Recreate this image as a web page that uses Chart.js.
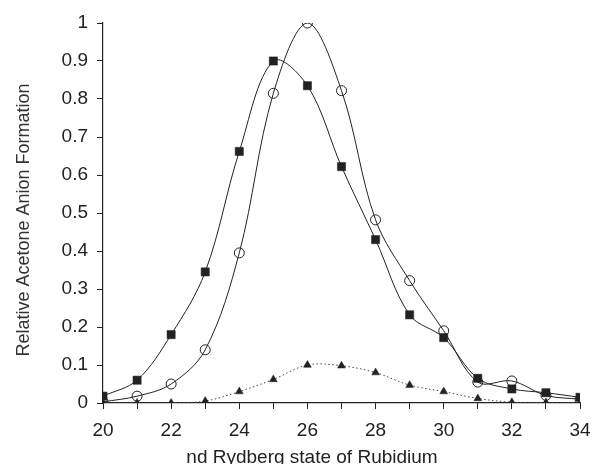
<!DOCTYPE html>
<html>
<head>
<meta charset="utf-8">
<script src="https://cdn.jsdelivr.net/npm/chart.js@4/dist/chart.umd.min.js"></script>
<style>
  html, body { margin: 0; padding: 0; background: #fff; }
  #wrap { width: 592px; height: 464px; }
</style>
</head>
<body>
<div id="wrap"><canvas id="rbChart" width="592" height="464"></canvas></div>
<script>
// n values (Rydberg state) and relative anion formation for the three series
const nStates = [20, 21, 22, 23, 24, 25, 26, 27, 28, 29, 30, 31, 32, 33, 34];
const squareVals = [0.018, 0.06, 0.18, 0.345, 0.662, 0.90, 0.835, 0.622, 0.43, 0.232, 0.172, 0.065, 0.037, 0.027, 0.015];
const circleVals = [0.003, 0.018, 0.05, 0.14, 0.395, 0.815, 1.0, 0.822, 0.482, 0.322, 0.19, 0.055, 0.058, 0.02, 0.01];
const triangleVals = [0, 0, 0, 0.005, 0.03, 0.062, 0.1, 0.098, 0.08, 0.047, 0.03, 0.012, 0.002, 0.001, 0];
const xTickLabels = [20, 22, 24, 26, 28, 30, 32, 34];
const yTickLabels = [0, 0.1, 0.2, 0.3, 0.4, 0.5, 0.6, 0.7, 0.8, 0.9, 1];
const xTitle = "nd Rydberg state of Rubidium";
const yTitle = "Relative Acetone Anion Formation";

const pts = vals => nStates.map((n, i) => ({ x: n, y: vals[i] }));
const ink = "#222";
const font = "'Liberation Sans', Arial, sans-serif";

// axis titles sit a bit off-centre in the original, so draw them by hand
const axisTitles = {
  id: "axisTitles",
  afterDraw(chart) {
    const c = chart.ctx;
    c.save();
    c.fillStyle = ink;
    c.textAlign = "center";
    c.textBaseline = "alphabetic";
    c.font = "19px " + font;
    c.fillText(xTitle, 312, 463);
    c.translate(29, 220);
    c.rotate(-Math.PI / 2);
    c.fillStyle = "#333";
    c.font = "18px " + font;
    c.fillText(yTitle, 0, 0);
    c.restore();
  }
};

new Chart(document.getElementById("rbChart"), {
  type: "line",
  data: {
    datasets: [
      {
        label: "triangles",
        data: pts(triangleVals),
        borderColor: "#444",
        borderWidth: 1,
        borderDash: [1.5, 2.5],
        tension: 0.35,
        pointStyle: "triangle",
        pointRadius: 4.5,
        pointBackgroundColor: ink,
        pointBorderColor: ink,
        pointBorderWidth: 0.5
      },
      {
        label: "squares",
        data: pts(squareVals),
        borderColor: ink,
        borderWidth: 1,
        tension: 0.35,
        pointStyle: "rect",
        pointRadius: 5.8,
        pointBackgroundColor: ink,
        pointBorderColor: ink,
        pointBorderWidth: 0.5
      },
      {
        label: "circles",
        data: pts(circleVals),
        borderColor: ink,
        borderWidth: 1,
        tension: 0.35,
        pointStyle: "circle",
        pointRadius: 5,
        pointBackgroundColor: "rgba(255,255,255,0)",
        pointBorderColor: ink,
        pointBorderWidth: 1
      }
    ]
  },
  options: {
    responsive: false,
    animation: false,
    layout: { padding: { top: 23, right: 0, left: 0, bottom: 0 } },
    plugins: { legend: { display: false }, tooltip: { enabled: false } },
    scales: {
      x: {
        type: "linear",
        min: 20,
        max: 34,
        afterFit(s) { s.height = 61; s.paddingRight = 12; s.paddingLeft = 0; },
        border: { display: true, color: ink, width: 1.2 },
        grid: { drawOnChartArea: false, drawTicks: true, tickLength: 6, color: ink },
        ticks: {
          stepSize: 1,
          autoSkip: false,
          maxRotation: 0,
          color: ink,
          padding: 10,
          font: { family: font, size: 19 },
          callback: v => xTickLabels.includes(v) ? String(v) : ""
        }
      },
      y: {
        min: 0,
        max: 1,
        afterFit(s) { s.width = 103; },
        border: { display: true, color: ink, width: 1.2 },
        grid: { drawOnChartArea: false, drawTicks: true, tickLength: 6, color: ink },
        ticks: {
          stepSize: 0.1,
          autoSkip: false,
          color: ink,
          padding: 9,
          font: { family: font, size: 19 },
          callback: v => {
            const r = Math.round(v * 10) / 10;
            return yTickLabels.includes(r) ? String(r) : "";
          }
        }
      }
    }
  },
  plugins: [axisTitles]
});
</script>
</body>
</html>
